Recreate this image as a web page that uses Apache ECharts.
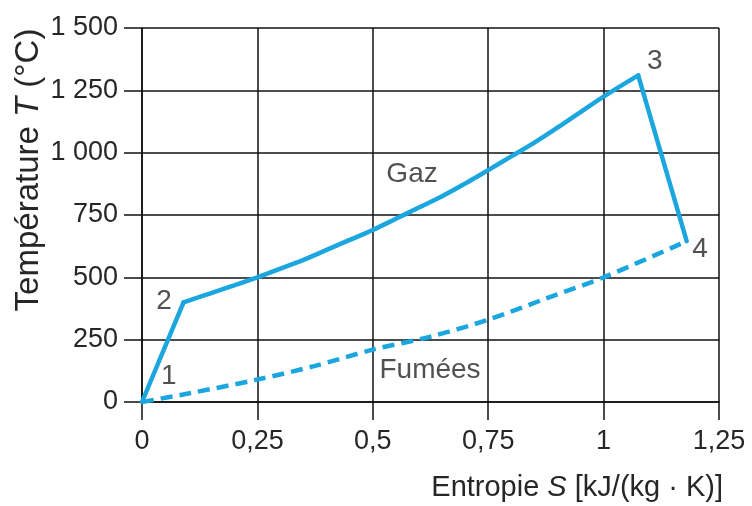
<!DOCTYPE html>
<html>
<head>
<meta charset="utf-8">
<script src="https://cdn.jsdelivr.net/npm/echarts@6/dist/echarts.min.js"></script>
<style>
html,body{margin:0;padding:0;background:#fff;}
#c{width:752px;height:506px;}
</style>
</head>
<body>
<div id="c"></div>
<script>
// ---- data ----
const xTicks = [0, 0.25, 0.5, 0.75, 1, 1.25];
const yTicks = [0, 250, 500, 750, 1000, 1250, 1500];
// compression 1 -> 2
const compS = [0, 0.09];
const compT = [0, 400];
// gas heating 2 -> 3
const gasS = [0.09, 0.15, 0.2, 0.25, 0.3, 0.35, 0.4, 0.45, 0.5, 0.55, 0.6, 0.65, 0.7, 0.75, 0.8, 0.85, 0.9, 0.95, 1.0, 1.075];
const gasT = [400, 437, 468, 500, 535, 570, 610, 650, 690, 735, 780, 825, 876, 930, 985, 1040, 1100, 1163, 1225, 1310];
// expansion 3 -> 4
const expS = [1.075, 1.18];
const expT = [1310, 645];
// fumées (dashed) 1 -> 4
const fumeesS = [0, 0.1, 0.25, 0.375, 0.5, 0.625, 0.75, 0.875, 1.0, 1.18];
const fumeesT = [0, 34, 90, 145, 210, 262, 330, 415, 500, 645];
// annotation texts and their positions (data coords)
const noteText = ['1', '2', '3', '4', 'Gaz', 'Fumées'];
const noteS = [0.058, 0.048, 1.111, 1.209, 0.585, 0.624];
const noteT = [104, 405, 1368, 614, 915, 128];

const FONT = '"Liberation Sans", Arial, sans-serif';
const TXT = '#262626';
const BLUE = '#1ba6e0';
const LW = 4.5;

const chart = echarts.init(document.getElementById('c'));
const fmtX = v => String(v).replace('.', ',');
const fmtY = v => v >= 1000 ? String(v).replace(/(\d)(\d{3})$/, '$1 $2') : String(v);
const pts = (a, b) => a.map((s, i) => [s, b[i]]);

chart.setOption({
  animation: false,
  backgroundColor: '#fff',
  grid: {left: 142, right: 33, top: 28, bottom: 104, containLabel: false},
  xAxis: {
    type: 'value', min: 0, max: 1.25, interval: 0.25,
    axisLine: {show: true, lineStyle: {color: '#111', width: 1.5}},
    axisTick: {show: true, length: 18, lineStyle: {color: '#111', width: 1.5}},
    splitLine: {show: true, lineStyle: {color: '#111', width: 1.5}},
    axisLabel: {formatter: fmtX, fontFamily: FONT, fontSize: 27, color: TXT, margin: 26}
  },
  yAxis: {
    type: 'value', min: 0, max: 1500, interval: 250,
    axisLine: {show: true, onZero: false, lineStyle: {color: '#111', width: 1.5}},
    axisTick: {show: true, length: 18, lineStyle: {color: '#111', width: 1.5}},
    splitLine: {show: true, lineStyle: {color: '#111', width: 1.5}},
    axisLabel: {formatter: fmtY, fontFamily: FONT, fontSize: 27, color: TXT, margin: 24}
  },
  graphic: [
    {type: 'text', right: 29, top: 473,
     style: {rich: {n: {fontFamily: FONT, fontSize: 29, fill: TXT}, i: {fontFamily: FONT, fontSize: 29, fontStyle: 'italic', fill: TXT}},
             text: '{n|Entropie }{i|S}{n| [kJ/(kg · K)]}'}},
    {type: 'text', x: 12, y: 170, rotation: Math.PI / 2,
     style: {rich: {n: {fontFamily: FONT, fontSize: 33, fill: TXT}, i: {fontFamily: FONT, fontSize: 33, fontStyle: 'italic', fill: TXT}},
             text: '{n|Température }{i|T}{n| (°C)}', align: 'center', verticalAlign: 'top'}}
  ],
  series: [
    {type: 'line', data: pts(compS, compT), symbol: 'none', lineStyle: {color: BLUE, width: LW, cap: 'round'}, z: 5},
    {type: 'line', data: pts(gasS, gasT), symbol: 'none', smooth: 0.35, lineStyle: {color: BLUE, width: LW, cap: 'round'}, z: 5},
    {type: 'line', data: pts(expS, expT), symbol: 'none', lineStyle: {color: BLUE, width: LW, cap: 'round'}, z: 5},
    {type: 'line', data: pts(fumeesS, fumeesT), symbol: 'none', smooth: 0.3,
     lineStyle: {color: BLUE, width: LW, type: [12, 7]}, z: 5},
    {type: 'scatter', symbolSize: 0, z: 6,
     data: noteText.map((t, i) => ({value: [noteS[i], noteT[i]], name: t})),
     label: {show: true, position: 'inside', formatter: p => p.name, fontFamily: FONT, fontSize: 28, color: TXT}}
  ]
});
</script>
</body>
</html>
